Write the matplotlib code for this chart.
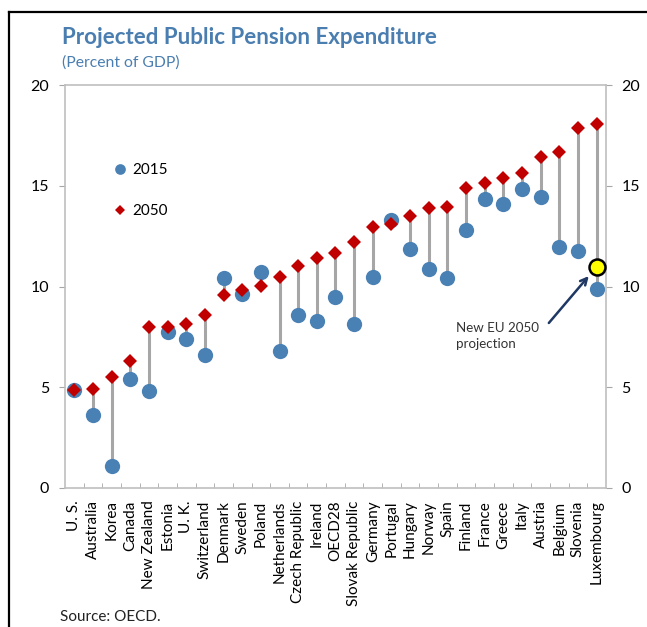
import matplotlib
matplotlib.use("Agg")
import matplotlib.pyplot as plt
from matplotlib.lines import Line2D

plt.rcParams['font.family'] = ['Lato', 'DejaVu Sans']

countries = ['U. S.', 'Australia', 'Korea', 'Canada', 'New Zealand', 'Estonia', 'U. K.',
             'Switzerland', 'Denmark', 'Sweden', 'Poland', 'Netherlands', 'Czech Republic',
             'Ireland', 'OECD28', 'Slovak Republic', 'Germany', 'Portugal', 'Hungary',
             'Norway', 'Spain', 'Finland', 'France', 'Greece', 'Italy', 'Austria',
             'Belgium', 'Slovenia', 'Luxembourg']
val_2015 = [4.85, 3.6, 1.1, 5.4, 4.8, 7.75, 7.4, 6.6, 10.4, 9.65, 10.7, 6.8, 8.6, 8.3,
            9.47, 8.15, 10.46, 13.3, 11.88, 10.87, 10.41, 12.79, 14.36, 14.09, 14.85,
            14.42, 11.95, 11.77, 9.9]
val_2050 = [4.85, 4.9, 5.5, 6.3, 8.0, 8.0, 8.15, 8.6, 9.6, 9.85, 10.05, 10.45, 11.04, 11.4,
            11.67, 12.2, 12.97, 13.1, 13.48, 13.9, 13.94, 14.9, 15.13, 15.41, 15.64,
            16.44, 16.68, 17.86, 18.08]
lux_new_2050 = 10.96

blue = '#4A81B4'
red = '#C00000'
title_blue = '#4A7EB0'

fig = plt.figure(figsize=(6.47, 6.27), dpi=100)
ax = fig.add_axes([0.1005, 0.2217, 0.836, 0.6427])

x = list(range(len(countries)))
ax.vlines(x, val_2015, val_2050, colors='#A6A6A6', linewidth=2.2, zorder=1)
ax.plot(x, val_2015, 'o', color=blue, markersize=11, markeredgewidth=0, zorder=2, label='2015')
ax.plot(x, val_2050, 'D', color=red, markersize=7.5, markeredgewidth=0, zorder=3, label='2050')
ax.plot(x[-1], lux_new_2050, 'o', markerfacecolor='#FFFF00', markeredgecolor='black',
        markersize=11.5, markeredgewidth=1.8, zorder=4)

ax.set_xlim(-0.5, len(countries) - 0.5)
ax.set_ylim(0, 20)
ax.set_yticks([0, 5, 10, 15, 20])
ax.set_xticks(x)
ax.set_xticklabels(countries, rotation=90, fontsize=11)
ax.set_xticks([i + 0.5 for i in x[:-1]], minor=True)
ax.tick_params(axis='x', which='major', length=0, pad=9)
ax.tick_params(axis='x', which='minor', direction='in', length=3.5, color='#A6A6A6')
ax.tick_params(axis='y', which='major', length=4.3, color='#A6A6A6', labelsize=11.5,
               pad=7, left=True, right=True, labelleft=True, labelright=True)
for s in ax.spines.values():
    s.set_color('#BFBFBF')
    s.set_linewidth(1.2)

ax.legend(loc='upper left', bbox_to_anchor=(0.065, 0.84), frameon=False, fontsize=11,
          markerscale=0.7, handlelength=0.8, handletextpad=0.4, labelspacing=1.75)

# arrow and label for the new Luxembourg projection
ax.annotate('', xy=(27.58, 10.52), xytext=(25.44, 8.19),
            arrowprops=dict(arrowstyle='->', color='#1F3864', lw=1.8,
                            shrinkA=0, shrinkB=0, mutation_scale=12))
ax.text(20.45, 7.54, 'New EU 2050\nprojection', fontsize=9.6, color='#333333',
        ha='left', va='center', linespacing=1.4)

fig.text(0.096, 0.94, 'Projected Public Pension Expenditure', fontsize=16.1,
         fontweight='bold', color=title_blue, va='center')
fig.text(0.096, 0.901, '(Percent of GDP)', fontsize=11.3, color=title_blue, va='center')
fig.text(0.093, 0.016, 'Source: OECD.', fontsize=11, color='#222222', va='center')

fig.add_artist(Line2D([0.0139, 1.0], [0.981, 0.981], color='black', lw=1.6,
                      transform=fig.transFigure))
fig.add_artist(Line2D([0.0139, 0.0139], [0.0, 0.981], color='black', lw=1.6,
                      transform=fig.transFigure))

fig.savefig('out.png', dpi=100)
